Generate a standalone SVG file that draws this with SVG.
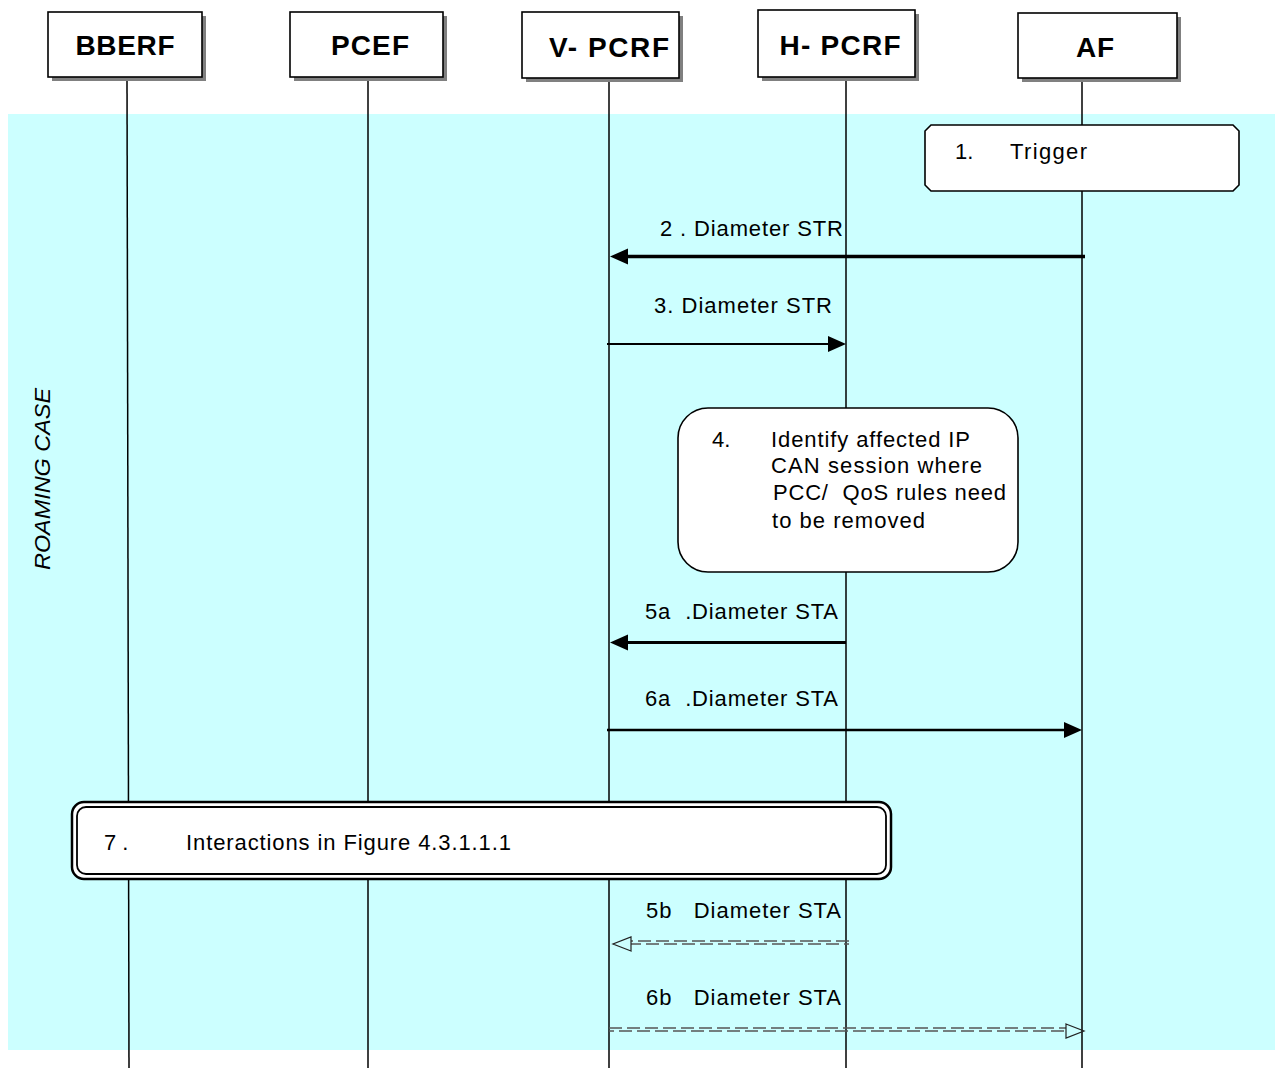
<svg xmlns="http://www.w3.org/2000/svg" width="1275" height="1070" viewBox="0 0 1275 1070" xml:space="preserve">
<defs>
<style>
.hdr{fill:#fff;stroke:#000;stroke-width:1.6}
.shd{fill:#808080}
.ht{font-family:"Liberation Sans",Arial,sans-serif;font-weight:bold;font-size:28px;text-anchor:middle;fill:#000}
.t{font-family:"Liberation Sans",Arial,sans-serif;font-size:22px;fill:#000;white-space:pre}
.life{stroke:#000;stroke-width:1.5}
.box{fill:#fff;stroke:#000;stroke-width:1.6}
.msg{stroke:#000;fill:none}
.dash{stroke:#555;stroke-width:1.3;fill:none;stroke-dasharray:13 5}
</style>
<marker id="fa" markerUnits="userSpaceOnUse" markerWidth="20" markerHeight="18" refX="8" refY="8" orient="auto"><path d="M0,0 L18,8 L0,16 z" fill="#000"/></marker>
<marker id="oa" markerUnits="userSpaceOnUse" markerWidth="22" markerHeight="18" refX="1" refY="8" orient="auto"><path d="M1,1 L19,8 L1,15 z" fill="none" stroke="#222" stroke-width="1.2"/></marker>
</defs>
<rect x="8" y="114" width="1267" height="936" fill="#CCFFFF"/>
<text class="t" font-style="italic" transform="translate(50,479) rotate(-90)" text-anchor="middle" textLength="182" lengthAdjust="spacingAndGlyphs">ROAMING CASE</text>

<g id="lifelines">
<line class="life" x1="127" y1="78" x2="129" y2="1068"/>
<line class="life" x1="368" y1="78" x2="368" y2="1068"/>
<line class="life" x1="609" y1="78" x2="609" y2="1068"/>
<line class="life" x1="846" y1="77" x2="846" y2="1068"/>
<line class="life" x1="1082" y1="78" x2="1082" y2="1068"/>
</g>

<g id="BBERF"><rect class="shd" x="52" y="16" width="154" height="65"/><rect class="hdr" x="48" y="12" width="154" height="65"/><text class="ht" x="125" y="55" textLength="99">BBERF</text></g>
<g id="PCEF"><rect class="shd" x="294" y="16" width="153" height="65"/><rect class="hdr" x="290" y="12" width="153" height="65"/><text class="ht" x="370" y="55" textLength="78">PCEF</text></g>
<g id="V-PCRF"><rect class="shd" x="526" y="16" width="157" height="66"/><rect class="hdr" x="522" y="12" width="157" height="66"/><text class="ht" x="609" y="57" textLength="120">V- PCRF</text></g>
<g id="H-PCRF"><rect class="shd" x="762" y="14" width="157" height="67"/><rect class="hdr" x="758" y="10" width="157" height="67"/><text class="ht" x="840" y="55" textLength="121">H- PCRF</text></g>
<g id="AF"><rect class="shd" x="1022" y="17" width="159" height="65"/><rect class="hdr" x="1018" y="13" width="159" height="65"/><text class="ht" x="1095" y="57" textLength="38">AF</text></g>

<g id="step1">
<path class="box" d="M931,125 L1233,125 L1239,131 L1239,185 L1233,191 L931,191 L925,185 L925,131 z"/>
<text class="t" x="955" y="159">1.</text>
<text class="t" x="1010" y="159" textLength="77">Trigger</text>
</g>

<g id="step4">
<rect class="box" x="678" y="408" width="340" height="164" rx="30" ry="30"/>
<text class="t" x="712" y="447">4.</text>
<text class="t" x="771" y="447" textLength="199">Identify affected IP</text>
<text class="t" x="771" y="473" textLength="211">CAN session where</text>
<text class="t" x="773" y="500" textLength="233">PCC/  QoS rules need</text>
<text class="t" x="772" y="528" textLength="153">to be removed</text>
</g>

<g id="step7">
<rect x="72" y="802" width="819" height="77" rx="12" ry="12" fill="#fff" stroke="#000" stroke-width="2.5"/>
<rect x="77" y="807" width="809" height="67" rx="9" ry="9" fill="none" stroke="#000" stroke-width="1.8"/>
<text class="t" x="104" y="850">7 .</text>
<text class="t" x="186" y="850" textLength="325">Interactions in Figure 4.3.1.1.1</text>
</g>

<g id="connectors">
<line class="msg" x1="1085" y1="256.5" x2="620" y2="256.5" stroke-width="3.5" marker-end="url(#fa)"/>
<text class="t" x="660" y="236" textLength="183">2 . Diameter STR</text>
<line class="msg" x1="607" y1="344" x2="836" y2="344" stroke-width="2.2" marker-end="url(#fa)"/>
<text class="t" x="654" y="313" textLength="178">3. Diameter STR</text>
<line class="msg" x1="846" y1="642.5" x2="620" y2="642.5" stroke-width="3.2" marker-end="url(#fa)"/>
<text class="t" x="645" y="619" textLength="193">5a  .Diameter STA</text>
<line class="msg" x1="607" y1="730" x2="1072" y2="730" stroke-width="2.6" marker-end="url(#fa)"/>
<text class="t" x="645" y="706" textLength="193">6a  .Diameter STA</text>
<line class="dash" x1="849" y1="941" x2="631" y2="941"/>
<line class="dash" x1="849" y1="944" x2="631" y2="944" stroke-dashoffset="8" marker-end="url(#oa)"/>
<text class="t" x="646" y="918" textLength="195">5b   Diameter STA</text>
<line class="dash" x1="609" y1="1028" x2="1066" y2="1028"/>
<line class="dash" x1="609" y1="1031" x2="1066" y2="1031" stroke-dashoffset="8" marker-end="url(#oa)"/>
<text class="t" x="646" y="1005" textLength="195">6b   Diameter STA</text>
</g>
</svg>
